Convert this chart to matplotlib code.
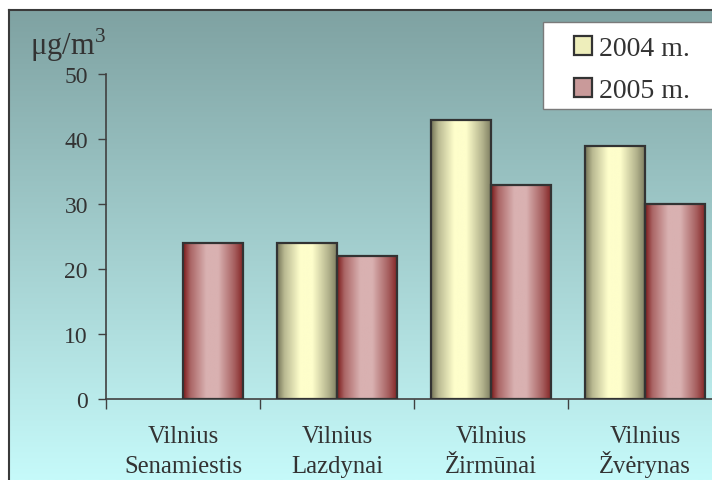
import numpy as np
import matplotlib
matplotlib.use("Agg")
import matplotlib.pyplot as plt
from matplotlib.patches import Patch, Rectangle
from matplotlib.lines import Line2D
from matplotlib.colors import to_rgb

stations = ["Vilnius\nSenamiestis", "Vilnius\nLazdynai", "Vilnius\nŽirmūnai", "Vilnius\nŽvėrynas"]
years = ["2004 m.", "2005 m."]
values_2004 = [np.nan, 24, 43, 39]
values_2005 = [24, 22, 33, 30]

plt.rcParams["font.family"] = ["Liberation Serif", "DejaVu Serif"]
plt.rcParams["mathtext.fontset"] = "custom"
plt.rcParams["mathtext.rm"] = "Liberation Serif"
TEXT = "#333333"
EDGE = "#333333"

W, H = 712, 481
fig = plt.figure(figsize=(W / 100, H / 100), dpi=100)
fig.patch.set_facecolor("white")

# backdrop gradient (teal-grey at top -> pale cyan at bottom)
bg = fig.add_axes([9 / W, 0, 1 - 9 / W, (H - 11) / H])
top_c = np.array(to_rgb("#7fa2a2"))
bot_c = np.array(to_rgb("#c6fafa"))
s = np.linspace(0, 1, 256)[:, None]
grad = (top_c[None, :] * (1 - s) + bot_c[None, :] * s)[:, None, :]
bg.imshow(grad, aspect="auto", extent=[0, 1, 0, 1], origin="upper")
bg.set_axis_off()

fig.add_artist(Line2D([9 / W, 1], [(H - 11) / H] * 2, color="#3a3a3a", lw=1.5))
fig.add_artist(Line2D([9 / W] * 2, [0, (H - 11) / H], color="#3a3a3a", lw=1.5))

ax = fig.add_axes([106 / W, 81 / H, 616 / W, 325 / H])
ax.set_facecolor("none")

x = np.arange(len(stations))
w = 0.39

def shade(dark, light, n=128):
    t = np.linspace(0, 1, n)
    wt = np.interp(t, [0, 0.12, 0.38, 0.58, 0.85, 1], [0, 0.5, 1, 1, 0.45, 0.05])
    d, l = np.array(to_rgb(dark)), np.array(to_rgb(light))
    return (d[None, :] * (1 - wt[:, None]) + l[None, :] * wt[:, None])[None, :, :]

series = [
    (values_2004, -w / 2, "#747458", "#fefecb", "#eeeebb"),
    (values_2005, w / 2, "#7c1a1a", "#d9b1b1", "#c99a9a"),
]
handles = []
for vals, off, dark, light, legc in series:
    bars = ax.bar(x + off, vals, w, facecolor="none", edgecolor=EDGE, lw=1.6, zorder=3)
    img = shade(dark, light)
    for p in bars.patches:
        h = p.get_height()
        if not np.isfinite(h) or h <= 0:
            continue
        x0 = p.get_x()
        ax.imshow(img, extent=[x0, x0 + p.get_width(), 0, h], aspect="auto", zorder=2)
    handles.append(Patch(facecolor=legc, edgecolor=EDGE, lw=1.6))

ax.set_xlim(-0.5, len(stations) - 0.5)
ax.set_ylim(0, 50)
ax.set_yticks(np.arange(0, 51, 10))
ax.set_xticks([])
ax.set_xticks(np.arange(len(stations) + 1) - 0.5, minor=True)
ax.tick_params(axis="x", which="minor", length=7, width=1, color="#404040", direction="out")
ax.tick_params(axis="y", length=6, width=1, color="#404040", direction="out", pad=7,
               labelsize=17, labelcolor=TEXT)
for side in ("top", "right"):
    ax.spines[side].set_visible(False)
for side in ("left", "bottom"):
    ax.spines[side].set_color("#404040")
    ax.spines[side].set_linewidth(1.2)

# category labels: each line on a fixed baseline so accents don't shift rows
for xi, name in zip(x, stations):
    for k, line in enumerate(name.split("\n")):
        ax.annotate(line, xy=(xi, 0), xycoords=("data", "axes fraction"),
                    xytext=(0, -(43 + 30 * k) * 0.72), textcoords="offset points",
                    ha="center", va="baseline", fontsize=17.8, color=TEXT,
                    annotation_clip=False)

fig.text(30 / W, (H - 55) / H, "μg/m$^{3}$", fontsize=22, color=TEXT, va="baseline", ha="left")

# legend box
fig.add_artist(Rectangle((543 / W, (H - 110) / H), 200 / W, 87 / H, transform=fig.transFigure,
                         facecolor="white", edgecolor="#7a7a7a", lw=1, zorder=1))
fig.legend(handles, years, loc="upper left", bbox_to_anchor=(574 / W, (H - 37) / H),
           frameon=False, fontsize=20, handlelength=0.65, handleheight=0.65,
           handletextpad=0.25, labelspacing=0.62, borderpad=0, borderaxespad=0,
           labelcolor=TEXT)

fig.savefig("out.png", dpi=100)
